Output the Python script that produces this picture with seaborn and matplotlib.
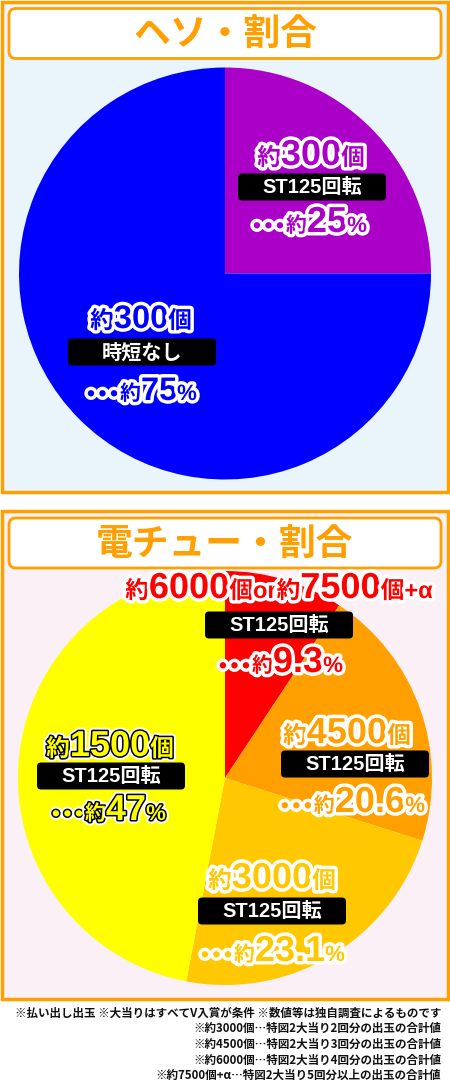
import matplotlib
matplotlib.use('Agg')
import matplotlib.pyplot as plt
import matplotlib.patheffects as pe
from matplotlib.patches import Rectangle, FancyBboxPatch
import seaborn as sns

sns.set_theme(style="white")
plt.rcParams['font.family'] = ['Noto Sans CJK JP', 'DejaVu Sans']

# data
heso_title = 'ヘソ・割合'
heso_share = [25, 75]
heso_balls = ['300', '300']
heso_mode = ['ST125回転', '時短なし']
heso_colors = ['#AA00C8', '#0000FF']

den_title = '電チュー・割合'
den_share = [9.3, 20.6, 23.1, 47]
den_balls = [['6000', '7500'], ['4500'], ['3000'], ['1500']]
den_mode = ['ST125回転', 'ST125回転', 'ST125回転', 'ST125回転']
den_colors = ['#FF0000', '#FFA000', '#FFC800', '#FFFF00']

notes = [
    '※払い出し出玉 ※大当りはすべてV入賞が条件 ※数値等は独自調査によるものです',
    '※約3000個…特図2大当り2回分の出玉の合計値',
    '※約4500個…特図2大当り3回分の出玉の合計値',
    '※約6000個…特図2大当り4回分の出玉の合計値',
    '※約7500個+α…特図2大当り5回分以上の出玉の合計値',
]

ORANGE = '#FF9F00'
JP = ['Noto Sans CJK JP', 'DejaVu Sans']
LAT = ['Liberation Sans', 'Noto Sans CJK JP', 'DejaVu Sans']
DOT = ['DejaVu Sans']
W, H = 450, 1080
fig = plt.figure(figsize=(4.5, 10.8), dpi=100)
fig.patch.set_facecolor('white')

bg = fig.add_axes([0, 0, 1, 1])
bg.set_xlim(0, W)
bg.set_ylim(H, 0)
bg.axis('off')

for y0, y1, col, title in [(1.5, 492, '#EAF4FB', heso_title), (511, 999, '#FAF0F5', den_title)]:
    bg.add_patch(Rectangle((1.5, y0), 446, y1 - y0, facecolor=col, edgecolor=ORANGE, lw=2.5))
    bg.add_patch(FancyBboxPatch((9, y0 + 7), 432, 50, boxstyle='round,pad=0,rounding_size=7',
                                facecolor='white', edgecolor=ORANGE, lw=2))
    bg.text(225, y0 + 33, title, fontsize=26.5, fontweight='bold', color=ORANGE,
            ha='center', va='center')


def pie_axes(cx, cy, r, share, colors):
    ax = fig.add_axes([(cx - r) / W, (H - cy - r) / H, 2 * r / W, 2 * r / H])
    ax.pie(share, colors=colors, startangle=90, counterclock=False, radius=1,
           wedgeprops=dict(linewidth=0))
    ax.set_xlim(-1, 1)
    ax.set_ylim(-1, 1)
    ax.axis('off')
    return ax


pie_axes(225, 273.5, 206, heso_share, heso_colors)
pie_axes(225, 778, 207, den_share, den_colors)

ov = fig.add_axes([0, 0, 1, 1])
ov.set_xlim(0, W)
ov.set_ylim(H, 0)
ov.axis('off')
ov.patch.set_alpha(0)
renderer = fig.canvas.get_renderer()


def rich(x, y, parts, color, stroke='white', inner=None):
    effects = [pe.Stroke(linewidth=5, foreground=stroke)]
    if inner:
        effects.append(pe.Stroke(linewidth=2.2, foreground=inner))
    effects.append(pe.Normal())
    texts = []
    for s, size, fam in parts:
        t = ov.text(0, y, s, fontsize=size, fontweight='bold', color=color, ha='left',
                    va='baseline', family=fam, path_effects=effects)
        texts.append(t)
    widths = [t.get_window_extent(renderer).width for t in texts]
    start = x - sum(widths) / 2
    for t, w in zip(texts, widths):
        t.set_x(start)
        start += w


def mode_box(cx, cy, label):
    ov.add_patch(FancyBboxPatch((cx - 74, cy - 13.5), 148, 27, boxstyle='round,pad=0,rounding_size=4',
                                facecolor='black', edgecolor='none'))
    ov.text(cx, cy + 0.5, label, fontsize=14.5, fontweight='bold', color='white', ha='center',
            va='center', family=LAT)


def balls_parts(balls, big=26):
    parts = []
    for i, b in enumerate(balls):
        if i:
            parts.append(('or', 17, LAT))
        parts += [('約', 17, JP), (b, big, LAT), ('個', 17, JP)]
    if len(balls) > 1:
        parts.append(('+α', 17, LAT))
    return parts


def pct_parts(v, big=26):
    return [('•••', 13, DOT), ('約', 15, JP), (f'{v:g}', big, LAT), ('%', 16, LAT)]


# (count x, count baseline, box center x, box center y, pct x, pct baseline, digit size)
heso_pos = [(311, 165, 312, 187, 309, 232, 26), (141, 328, 142, 352, 141, 400, 23.5)]
den_pos = [(279, 598, 279, 625, 280, 672, 26), (347, 743, 355, 764, 352, 812, 26),
           (272, 888, 272, 911, 272, 961, 26), (110, 756, 111, 776, 108, 820, 26)]

for share, balls, mode, col, pos in zip(heso_share, heso_balls, heso_mode, heso_colors, heso_pos):
    rich(pos[0], pos[1], balls_parts([balls], pos[6]), col)
    mode_box(pos[2], pos[3], mode)
    rich(pos[4], pos[5], pct_parts(share, pos[6]), col)

for share, balls, mode, col, pos in zip(den_share, den_balls, den_mode, den_colors, den_pos):
    inner = 'black' if col == '#FFFF00' else None
    rich(pos[0], pos[1], balls_parts(balls, pos[6]), col, inner=inner)
    mode_box(pos[2], pos[3], mode)
    rich(pos[4], pos[5], pct_parts(share, pos[6]), col, inner=inner)

for i, line in enumerate(notes):
    bg.text(441, 1013 + i * 15.6, line, fontsize=8.3, fontweight='bold', color='#111111',
            ha='right', va='center')

fig.savefig('out.png', dpi=100)
